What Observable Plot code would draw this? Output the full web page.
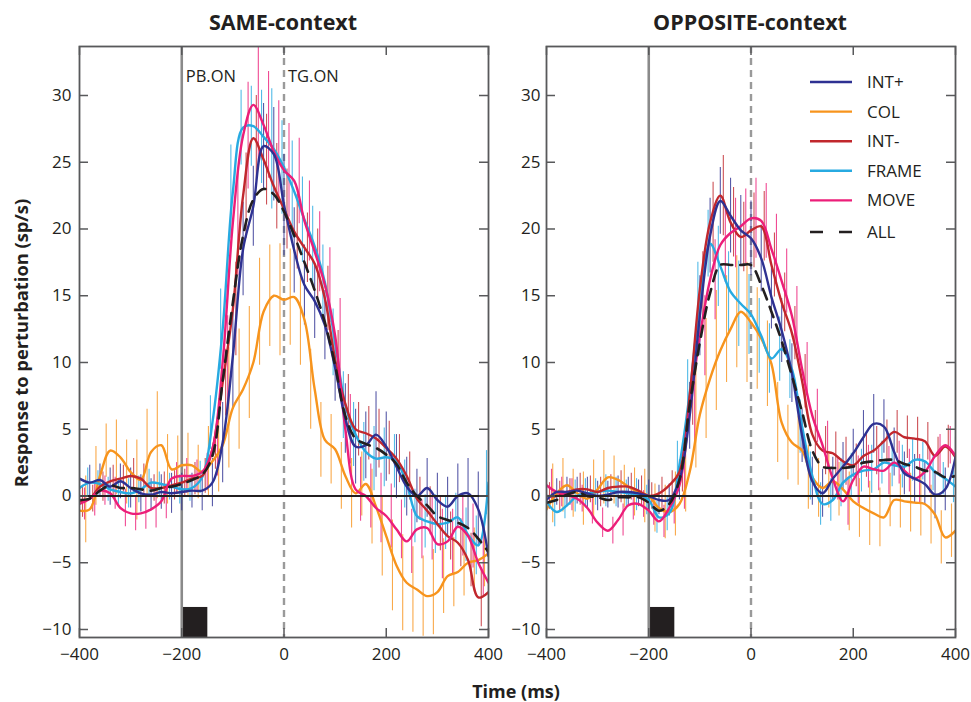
<!DOCTYPE html>
<html><head><meta charset="utf-8">
<script src="https://cdn.jsdelivr.net/npm/d3@7"></script>
<script src="https://cdn.jsdelivr.net/npm/@observablehq/plot@0.6"></script>
<style>
body{margin:0;background:#fff;}
#chart{position:relative;width:971px;height:702px;font-family:'Open Sans',sans-serif;color:#231f20;overflow:hidden;}
.abs{position:absolute;white-space:nowrap;}
.title{font-weight:700;font-size:21.5px;transform:translate(-50%,-50%);}
</style></head><body><div id="chart"></div>
<script>
// ---------- DATA ----------
const times = [-400,-380,-360,-340,-320,-300,-280,-260,-240,-220,-200,-180,-160,-140,-120,-100,-80,-60,-40,-20,0,20,40,60,80,100,120,140,160,180,200,220,240,260,280,300,320,340,360,380,400];
const seriesNames = ["INT+","COL","INT-","FRAME","MOVE","ALL"];
const seriesColors = ["#2e3192","#f7941d","#c1272d","#27aae1","#ec1e79","#231f20"];

// SAME-context
const sameIntPlus  = [1.3,1.0,1.2,0.7,1.1,0.6,0.2,0.1,0.3,0.2,0.3,0.4,0.4,1.0,4.0,10.5,18.5,21.7,26.2,25.6,21.8,18.4,15.8,14.6,12.8,9.6,5.8,3.7,3.8,4.6,3.7,2.2,0.7,0.0,0.6,-0.3,-0.8,0.0,0.2,-1.0,-4.5];
const sameCol      = [-1.1,-1.0,1.5,3.4,2.9,1.8,1.2,3.3,3.8,2.0,2.3,2.3,1.8,2.6,3.8,6.6,8.0,10.0,13.8,15.0,14.7,14.9,13.2,8.0,4.2,3.5,1.5,0.2,0.9,-0.8,-3.0,-5.2,-6.5,-7.0,-7.5,-7.2,-6.0,-5.7,-5.0,-4.8,-4.3];
const sameIntMinus = [-0.4,-0.2,0.7,1.1,1.3,1.5,1.3,0.6,0.6,0.8,1.0,1.3,1.5,3.5,8.5,14.0,22.5,26.8,25.2,23.2,21.5,19.8,18.6,17.4,14.8,10.2,6.9,5.0,4.7,4.3,3.6,2.8,1.5,-0.2,-1.1,-2.1,-3.0,-3.5,-4.8,-7.6,-7.2];
const sameFrame    = [0.6,1.0,0.9,0.5,0.3,0.2,0.5,1.0,0.9,0.7,0.5,0.6,1.4,5.5,12.5,22.8,27.6,27.7,26.9,26.0,24.6,22.8,20.7,18.7,16.0,11.5,6.8,4.6,3.3,2.8,2.9,2.6,0.9,-1.5,-1.9,-2.1,-2.0,-1.6,-2.9,-3.7,1.0];
const sameMove     = [-0.6,-0.2,0.4,0.2,-0.9,-1.3,-1.3,-1.0,-0.4,1.3,1.5,1.5,1.8,3.5,10.0,20.5,27.0,29.3,27.8,25.8,24.4,23.6,20.6,18.3,15.8,12.0,5.0,0.5,0.0,-0.9,-1.5,-2.5,-3.4,-2.5,-2.4,-3.6,-3.4,-2.3,-3.0,-5.0,-6.5];
const sameAll      = [-0.3,-0.2,0.4,0.8,0.6,0.6,0.5,0.4,0.6,0.7,0.9,1.2,1.6,3.0,8.6,14.5,19.5,22.2,23.0,22.6,21.3,19.5,17.5,15.4,13.0,9.8,6.0,4.3,3.9,3.6,3.1,2.4,1.0,0.0,-0.7,-1.5,-1.8,-2.0,-2.4,-3.2,-4.2];

const sameIntPlusErr  = [1.5,1.3,1.2,1.4,1.3,1.5,1.4,1.2,1.3,1.5,1.4,1.3,1.5,1.8,3.0,4.0,3.5,3.0,3.2,3.5,3.8,3.2,3.0,2.8,2.6,2.5,2.6,2.8,2.5,3.2,2.6,2.4,2.2,2.0,2.2,2.0,2.2,2.4,2.6,2.8,3.0];
const sameColErr      = [2.0,2.5,2.2,2.0,2.8,2.4,3.0,3.2,4.0,2.6,2.2,2.4,2.0,2.6,3.5,4.5,4.5,4.2,4.0,3.8,4.2,3.6,3.4,3.0,2.8,2.6,2.5,2.6,2.4,2.8,3.0,3.4,3.6,3.2,3.0,3.2,2.8,2.6,2.5,2.4,2.5];
const sameIntMinusErr = [1.2,1.0,1.1,1.2,1.0,1.3,1.1,1.0,1.2,1.1,1.0,1.2,1.3,1.5,2.5,3.5,3.2,3.2,3.4,3.2,3.0,2.8,2.6,2.6,2.4,2.2,2.2,2.0,2.0,2.2,2.0,1.8,1.8,1.6,1.8,2.0,1.8,1.8,2.0,2.2,2.4];
const sameFrameErr    = [1.0,1.1,1.0,0.9,1.0,1.1,1.0,1.0,0.9,1.0,1.1,1.0,1.2,2.0,3.0,3.5,2.8,3.0,3.5,4.5,3.5,3.8,3.2,3.0,2.8,2.5,2.5,2.4,2.2,2.4,2.2,2.0,1.8,2.0,2.0,2.2,2.0,1.8,2.0,2.2,2.4];
const sameMoveErr     = [1.2,1.3,1.1,1.2,1.4,1.3,1.2,1.4,1.3,1.2,1.3,1.2,1.4,2.0,3.5,4.0,4.0,4.5,4.0,3.8,3.5,3.2,3.0,3.0,2.8,2.8,2.6,2.4,2.4,2.6,2.4,2.2,2.4,2.2,2.4,2.6,2.4,2.2,2.4,2.6,2.8];

// OPPOSITE-context
const oppIntPlus  = [-0.3,0.3,0.3,0.4,0.2,0.0,0.1,0.3,0.3,0.2,0.0,-0.3,-0.3,1.2,6.0,13.5,19.5,22.1,21.0,19.9,19.3,17.8,14.9,12.4,9.2,4.5,1.1,0.2,1.3,2.2,3.2,4.4,5.4,5.2,3.3,1.7,1.3,0.9,0.1,0.5,2.9];
const oppCol      = [-1.0,0.2,0.8,0.2,-0.2,0.5,1.4,1.2,0.7,0.3,0.0,-0.9,-1.2,-0.6,1.8,6.1,8.8,10.9,12.5,13.8,13.0,11.8,9.9,5.5,4.0,3.4,1.4,0.6,1.1,0.5,-0.4,-0.9,-1.3,-1.6,-0.3,-0.4,-0.5,-0.6,-1.4,-3.1,-2.6];
const oppIntMinus = [0.0,0.0,0.3,0.5,0.5,0.3,0.6,0.7,0.7,0.4,0.0,0.2,0.8,1.8,7.5,15.5,20.5,22.5,20.5,19.4,19.9,20.2,17.3,14.5,12.2,8.6,4.6,3.4,3.2,2.6,2.3,3.0,3.4,4.1,4.8,4.4,4.3,4.1,3.0,3.7,2.9];
const oppFrame    = [-0.4,-1.2,-0.7,0.0,0.2,0.3,0.4,0.3,0.2,0.1,-0.3,-1.6,-1.3,2.3,7.7,14.5,18.9,17.2,15.3,14.4,13.6,12.0,10.3,11.0,9.5,5.2,1.5,-0.6,-0.3,1.0,1.6,1.9,2.0,2.5,2.3,2.2,2.7,2.6,1.8,1.3,0.7];
const oppMove     = [0.8,0.3,0.1,-0.2,-0.9,-2.0,-2.6,-1.8,-0.7,-0.6,-1.1,-1.9,-0.9,0.8,6.5,12.0,16.2,18.8,19.7,20.2,20.8,20.6,18.5,16.1,13.5,9.5,6.0,3.8,1.3,-0.4,1.2,2.2,2.0,1.9,2.5,1.9,1.3,1.8,3.0,3.8,3.0];
const oppAll      = [-0.5,-0.3,0.1,0.3,0.0,-0.1,-0.3,-0.1,-0.1,-0.1,-0.5,-1.1,-0.6,1.2,6.8,11.5,15.2,17.3,17.3,17.3,17.3,15.8,13.8,11.6,9.0,6.3,3.4,2.2,2.1,2.1,2.2,2.5,2.6,2.7,2.7,2.4,2.2,1.9,1.8,1.4,1.5];

const oppIntPlusErr  = [1.2,1.0,1.1,1.0,1.2,1.1,1.0,1.2,1.1,1.0,1.2,1.1,1.2,1.5,2.5,3.0,2.8,2.5,2.8,2.6,2.8,2.5,2.4,2.4,2.2,2.0,1.8,1.8,1.6,1.8,1.8,2.0,2.2,2.0,1.8,1.6,1.8,1.6,1.8,1.6,1.5];
const oppColErr      = [2.0,2.2,2.0,1.8,2.0,2.2,2.0,1.8,1.6,1.8,2.0,1.8,2.0,2.4,3.0,4.0,4.5,4.5,4.0,4.2,4.5,3.8,3.2,3.0,2.8,2.6,2.4,2.2,2.0,2.0,2.2,2.2,2.4,2.2,2.0,2.0,2.2,2.4,2.2,2.0,2.0];
const oppIntMinusErr = [1.0,1.1,1.0,1.2,1.0,1.1,1.0,1.2,1.0,1.1,1.0,1.2,1.1,1.5,2.2,2.8,3.0,3.0,2.6,2.6,2.8,2.6,2.4,2.2,2.0,2.0,1.8,1.8,1.6,1.8,1.6,1.6,1.8,1.6,1.6,1.6,1.6,1.4,1.4,1.6,1.5];
const oppFrameErr    = [1.2,1.1,1.0,1.2,1.1,1.0,1.2,1.1,1.0,1.2,1.1,1.2,1.3,1.8,2.5,3.0,2.5,3.0,3.0,3.2,3.0,2.8,2.6,2.4,2.2,2.0,1.8,1.6,1.6,1.8,1.6,1.6,1.8,1.6,1.6,1.6,1.6,1.4,1.4,1.2,1.2];
const oppMoveErr     = [1.2,1.1,1.2,1.0,1.2,1.1,1.0,1.2,1.1,1.0,1.1,1.2,1.2,1.8,2.5,3.0,3.0,2.8,2.6,2.8,3.0,2.8,2.6,2.4,2.2,2.0,2.0,1.8,1.6,1.8,1.8,1.6,1.6,1.8,1.6,1.6,1.8,1.6,1.6,1.4,1.4];

const xTicks = [-400,-200,0,200,400];
const yTicks = [-10,-5,0,5,10,15,20,25,30];
const onsets = [{t:-200,label:"PB.ON"},{t:0,label:"TG.ON"}];
const pulse = [{start:-197,end:-149,top:-8.35}];
const panelTitles = ["SAME-context","OPPOSITE-context"];

// ---------- DRAW ----------
const FONT = "'Open Sans', sans-serif";
const H = 672, MT = 46, MB = 35;
const Y_DOMAIN = [-10.6, 33.67];
const FRAME = "#58595b";
const barOffsets = [0,-4,3,-2,5];

function rowsOf(vals, errs){ return times.map((t,i)=>({t, v: vals[i], e: errs ? errs[i] : 0})); }

function makePanel(cfg){
  const pw = cfg.width - cfg.ml - cfg.mr;
  const ph = H - MT - MB;
  const marks = [];
  marks.push(Plot.rect(pulse, {x1:"start", x2:"end", y1: Y_DOMAIN[0], y2:"top", fill:"#231f20"}));
  marks.push(Plot.ruleX([onsets[0]], {x:"t", stroke:"#8a8a8a", strokeWidth:2.6}));
  marks.push(Plot.ruleX([onsets[1]], {x:"t", stroke:"#9a9a9a", strokeWidth:2.4, strokeDasharray:"7,5"}));
  for (let k=0;k<5;k++){
    marks.push(Plot.ruleX(rowsOf(cfg.vals[k], cfg.errs[k]), {x:"t", y1:d=>d.v-d.e, y2:d=>d.v+d.e,
      stroke: seriesColors[k], strokeWidth:1.1, strokeOpacity:0.8, dx: barOffsets[k], clip:true}));
  }
  const order = [1,3,2,4,0];
  for (const k of order){
    marks.push(Plot.line(rowsOf(cfg.vals[k]), {x:"t", y:"v", stroke: seriesColors[k], strokeWidth:2.4, curve:"catmull-rom", clip:true}));
  }
  marks.push(Plot.line(rowsOf(cfg.vals[5]), {x:"t", y:"v", stroke: seriesColors[5], strokeWidth:2.6, strokeDasharray:"11,8", curve:"catmull-rom", clip:true}));
  marks.push(Plot.ruleY([0], {stroke:"#231f20", strokeWidth:2}));
  if (cfg.labels) marks.push(Plot.text(onsets, {x:"t", text:"label", frameAnchor:"top", textAnchor:"start", dx:4, dy:24, fontSize:16.5, fill:"#231f20"}));
  marks.push(Plot.tickY(yTicks, {y:d=>d, insetRight: pw-9, stroke:FRAME, strokeWidth:1.5}));
  marks.push(Plot.tickY(yTicks, {y:d=>d, insetLeft: pw-9, stroke:FRAME, strokeWidth:1.5}));
  marks.push(Plot.tickX(xTicks, {x:d=>d, insetBottom: ph-9, stroke:FRAME, strokeWidth:1.5}));
  marks.push(Plot.tickX(xTicks, {x:d=>d, insetTop: ph-9, stroke:FRAME, strokeWidth:1.5}));
  marks.push(Plot.axisX(xTicks, {tickSize:0, tickPadding:10, fontSize:17, label:null, fill:"#231f20"}));
  marks.push(Plot.axisY(yTicks, {tickSize:0, tickPadding:cfg.ypad, fontSize:17, label:null, fill:"#231f20"}));
  marks.push(Plot.frame({stroke:FRAME, strokeWidth:1.8}));
  return Plot.plot({
    width: cfg.width, height: H, marginTop: MT, marginBottom: MB, marginLeft: cfg.ml, marginRight: cfg.mr,
    x: {domain:[-400,400]}, y: {domain: Y_DOMAIN},
    style: {fontFamily: FONT, fontSize:"17px", color:"#231f20", background:"transparent", overflow:"visible"},
    marks
  });
}

const chart = document.getElementById("chart");
function place(el, left, top){ el.style.position="absolute"; el.style.left=left+"px"; el.style.top=top+"px"; chart.appendChild(el); }

place(makePanel({width:500, ml:79, mr:12, ypad:8, labels:true,
  vals:[sameIntPlus,sameCol,sameIntMinus,sameFrame,sameMove,sameAll],
  errs:[sameIntPlusErr,sameColErr,sameIntMinusErr,sameFrameErr,sameMoveErr]}), 0, 0);
place(makePanel({width:505, ml:80, mr:16, ypad:6, labels:false,
  vals:[oppIntPlus,oppCol,oppIntMinus,oppFrame,oppMove,oppAll],
  errs:[oppIntPlusErr,oppColErr,oppIntMinusErr,oppFrameErr,oppMoveErr]}), 466, 0);

function addText(txt, x, y, cls, extra){
  const d = document.createElement("div"); d.className = "abs " + (cls||""); d.textContent = txt;
  d.style.left = x+"px"; d.style.top = y+"px"; Object.assign(d.style, extra||{}); chart.appendChild(d);
}
addText(panelTitles[0], 283, 21, "title");
addText(panelTitles[1], 750, 21, "title");
addText("Response to perturbation (sp/s)", 20, 343, "", {fontWeight:"700", fontSize:"18.3px", transform:"translate(-50%,-50%) rotate(-90deg)"});
addText("Time (ms)", 516, 691, "", {fontWeight:"700", fontSize:"18px", transform:"translate(-50%,-50%)"});

const leg = d3.select(chart).append("svg").attr("width",971).attr("height",702)
  .style("position","absolute").style("left","0px").style("top","0px").style("pointer-events","none");
const legY0 = 82, legStep = 29.6;
seriesNames.forEach((name,i)=>{
  const y = legY0 + i*legStep + (i===5 ? 2 : 0);
  leg.append("line").attr("x1",810).attr("x2",852).attr("y1",y).attr("y2",y)
    .attr("stroke",seriesColors[i]).attr("stroke-width",i===5?2.6:2.4)
    .attr("stroke-dasharray", i===5 ? "13,16" : null);
  leg.append("text").attr("x",867).attr("y",y).attr("dy","0.35em").text(name)
    .attr("font-family",FONT).attr("font-size",17).attr("fill","#231f20");
});
</script></body></html>
